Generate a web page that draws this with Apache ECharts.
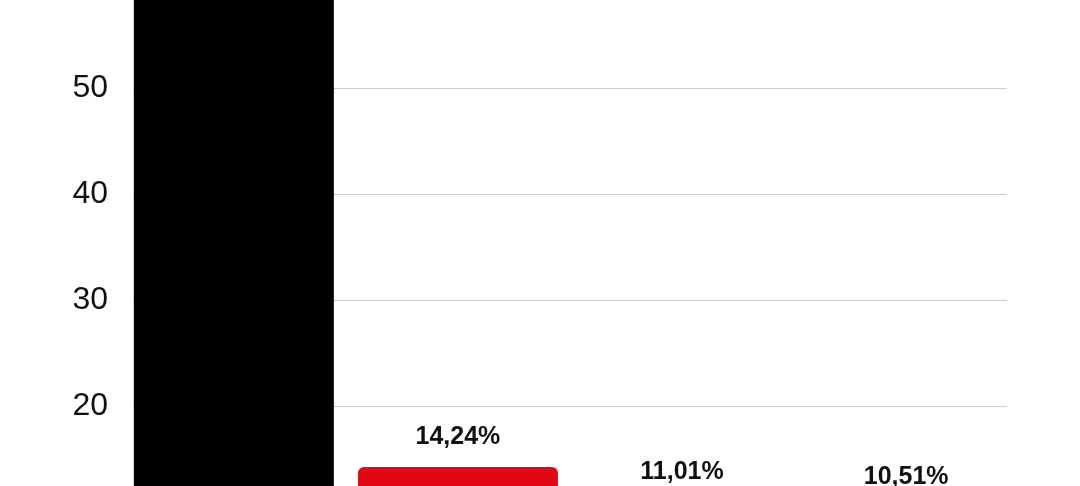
<!DOCTYPE html>
<html>
<head>
<meta charset="utf-8">
<script src="https://cdn.jsdelivr.net/npm/echarts@6/dist/echarts.min.js"></script>
<style>
html,body{margin:0;padding:0;background:#fff;}
#c{width:1080px;height:486px;}
</style>
</head>
<body>
<div id="c"></div>
<script>
const categories = ['A', 'B', 'C', 'D'];
const values = [62, 14.24, 11.01, 10.51];
const barColors = ['#000000', '#e30613', '#e30613', '#e30613'];
const showLabel = [false, true, true, true];
const yTicks = [0, 10, 20, 30, 40, 50, 60, 70];

const chart = echarts.init(document.getElementById('c'));
chart.setOption({
  animation: false,
  grid: { left: 133, right: 73, top: -124, bottom: -132, outerBoundsMode: 'none', containLabel: false },
  xAxis: {
    type: 'value', min: -0.45, max: 3.45,
    axisLine: { show: false }, axisTick: { show: false },
    splitLine: { show: false },
    axisLabel: { show: false, formatter: v => categories[v] || '' }
  },
  yAxis: {
    type: 'value', min: yTicks[0], max: yTicks[yTicks.length - 1], interval: 10,
    axisLine: { show: false }, axisTick: { show: false },
    axisLabel: { color: '#111', fontSize: 32, fontFamily: 'Liberation Sans, Arial, sans-serif', margin: 25 },
    splitLine: { lineStyle: { color: '#cccccc', width: 1 } }
  },
  series: [{
    type: 'bar',
    barWidth: 200,
    data: values.map((v, i) => ({
      value: [i, v],
      itemStyle: { color: barColors[i], borderRadius: i === 0 ? 0 : [6, 6, 0, 0] },
      label: { show: showLabel[i] }
    })),
    label: {
      position: 'top', distance: 17,
      color: '#111', fontSize: 25, fontWeight: 'bold',
      fontFamily: 'Liberation Sans, Arial, sans-serif',
      formatter: p => p.value[1].toFixed(2).replace('.', ',') + '%'
    }
  }]
});
</script>
</body>
</html>
